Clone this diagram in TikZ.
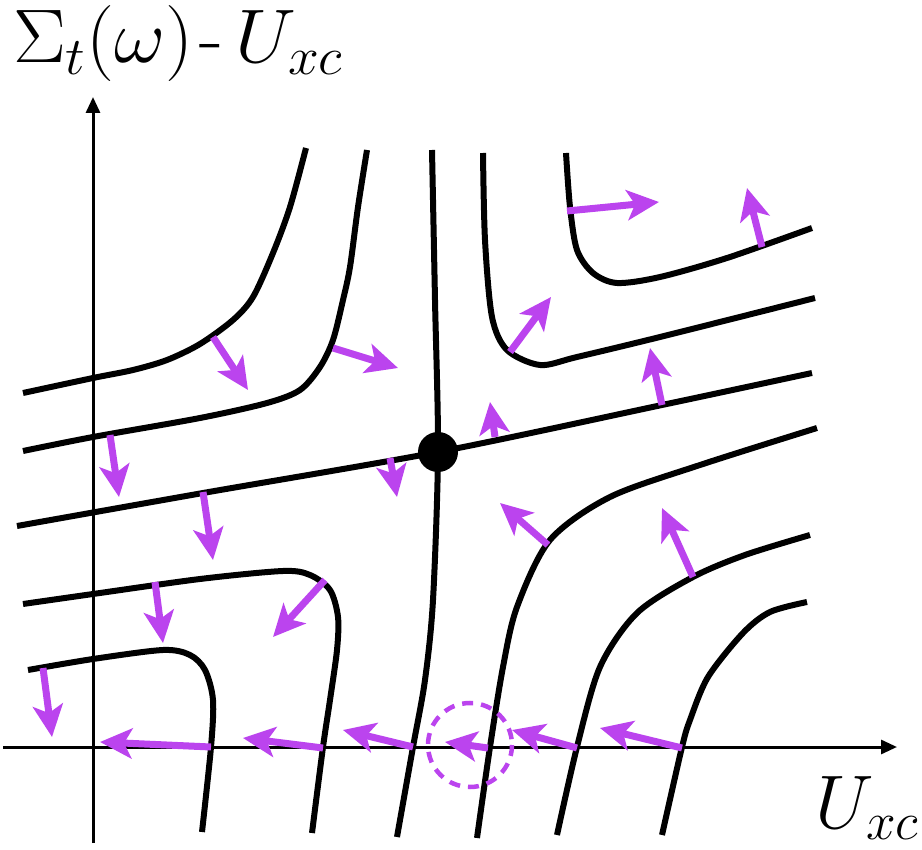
\RequirePackage{fix-cm}
\documentclass[tikz,border=0pt]{standalone}
\usetikzlibrary{arrows.meta}
\definecolor{flow}{RGB}{187,68,238}
\begin{document}
\begin{tikzpicture}[x=1pt,y=-1pt,
  curve/.style={line width=6pt},
  flowarrow/.style={draw=flow, line width=7pt, -{Stealth[length=32pt,width=30pt,inset=8pt,fill=flow]}},
  axisline/.style={line width=3pt, -{Triangle[length=16pt,width=14pt]}},
  biglabel/.style={inner sep=0pt, font=\fontsize{76}{84}\selectfont}]
\useasboundingbox (0,0) rectangle (922,850);
% axes
\draw[axisline] (3,747) -- (897,747);
\draw[axisline] (93,843) -- (93,97);
% curves
\draw[curve] plot[smooth] coordinates {(432,150) (435,300) (438,452) (433,600) (425,680) (413,747) (397,837)};
\draw[curve] plot[smooth] coordinates {(817,428) (700,465) (610,497) (550,540) (517,607) (503,667) (490,747) (477,838)};
\draw[curve] plot[smooth] coordinates {(810,535) (745,555) (693,577) (637,613) (600,667) (577,747) (557,835)};
\draw[curve] plot[smooth] coordinates {(807,602) (770,612) (743,633) (708,677) (690,720) (682,747) (662,835)};
\draw[curve] plot[smooth] coordinates {(17,526) (203,493) (438,452) (662,405) (812,373)};
\draw[curve] plot[smooth] coordinates {(23,451) (93,437) (200,418) (267,403) (300,390) (320,367) (333,340) (343,300) (350,267) (358,207) (367,150)};
\draw[curve] plot[smooth] coordinates {(23,393) (93,378) (133,370) (167,360) (200,344) (233,320) (253,297) (273,253) (290,207) (306,148)};
\draw[curve] plot[smooth] coordinates {(23,604) (93,594) (200,579) (283,571) (310,575) (330,590) (338,617) (337,650) (330,700) (323,747) (312,833)};
\draw[curve] plot[smooth] coordinates {(28,670) (93,659) (163,650) (190,655) (205,670) (213,700) (211,747) (202,832)};
\draw[curve] plot[smooth] coordinates {(566,153) (570,207) (577,250) (593,273) (617,283) (660,277) (727,258) (812,228)};
\draw[curve] plot[smooth] coordinates {(483,153) (485,240) (492,317) (507,350) (540,365) (577,357) (660,337) (815,298)};
% fixed point
\fill (438,452) circle[radius=20];
% flow arrows
\draw[flowarrow] (213,337) -- (248,390);
\draw[flowarrow] (333,348) -- (398,368);
\draw[flowarrow] (110,435) -- (119,497);
\draw[flowarrow] (203,492) -- (213,560);
\draw[flowarrow] (390,458) -- (397,497);
\draw[flowarrow] (155,582) -- (163,643);
\draw[flowarrow] (325,580) -- (273,637);
\draw[flowarrow] (43,668) -- (52,737);
\draw[flowarrow] (211,747) -- (100,742);
\draw[flowarrow] (323,748) -- (243,738);
\draw[flowarrow] (413,747) -- (343,730);
\draw[flowarrow] (488,748) -- (445,742);
\draw[flowarrow] (577,748) -- (512,730);
\draw[flowarrow] (682,748) -- (600,728);
\draw[flowarrow] (548,545) -- (500,503);
\draw[flowarrow] (693,577) -- (662,508);
\draw[flowarrow] (495,437) -- (490,402);
\draw[flowarrow] (662,405) -- (650,348);
\draw[flowarrow] (510,352) -- (551,297);
\draw[flowarrow] (567,211) -- (659,202);
\draw[flowarrow] (762,247) -- (747,188);
% dashed circle
\draw[flow, line width=4.5pt, dash pattern=on 11pt off 8pt] (470,745) circle[radius=42];
% labels
\node[biglabel, anchor=base west] at (13,63) {\scalebox{1.04}[1]{$\Sigma_t(\omega)$\kern6pt-\kern12pt$U_{xc}$}};
\node[biglabel, anchor=base east] at (919,828) {$U_{xc}$};
\end{tikzpicture}
\end{document}
